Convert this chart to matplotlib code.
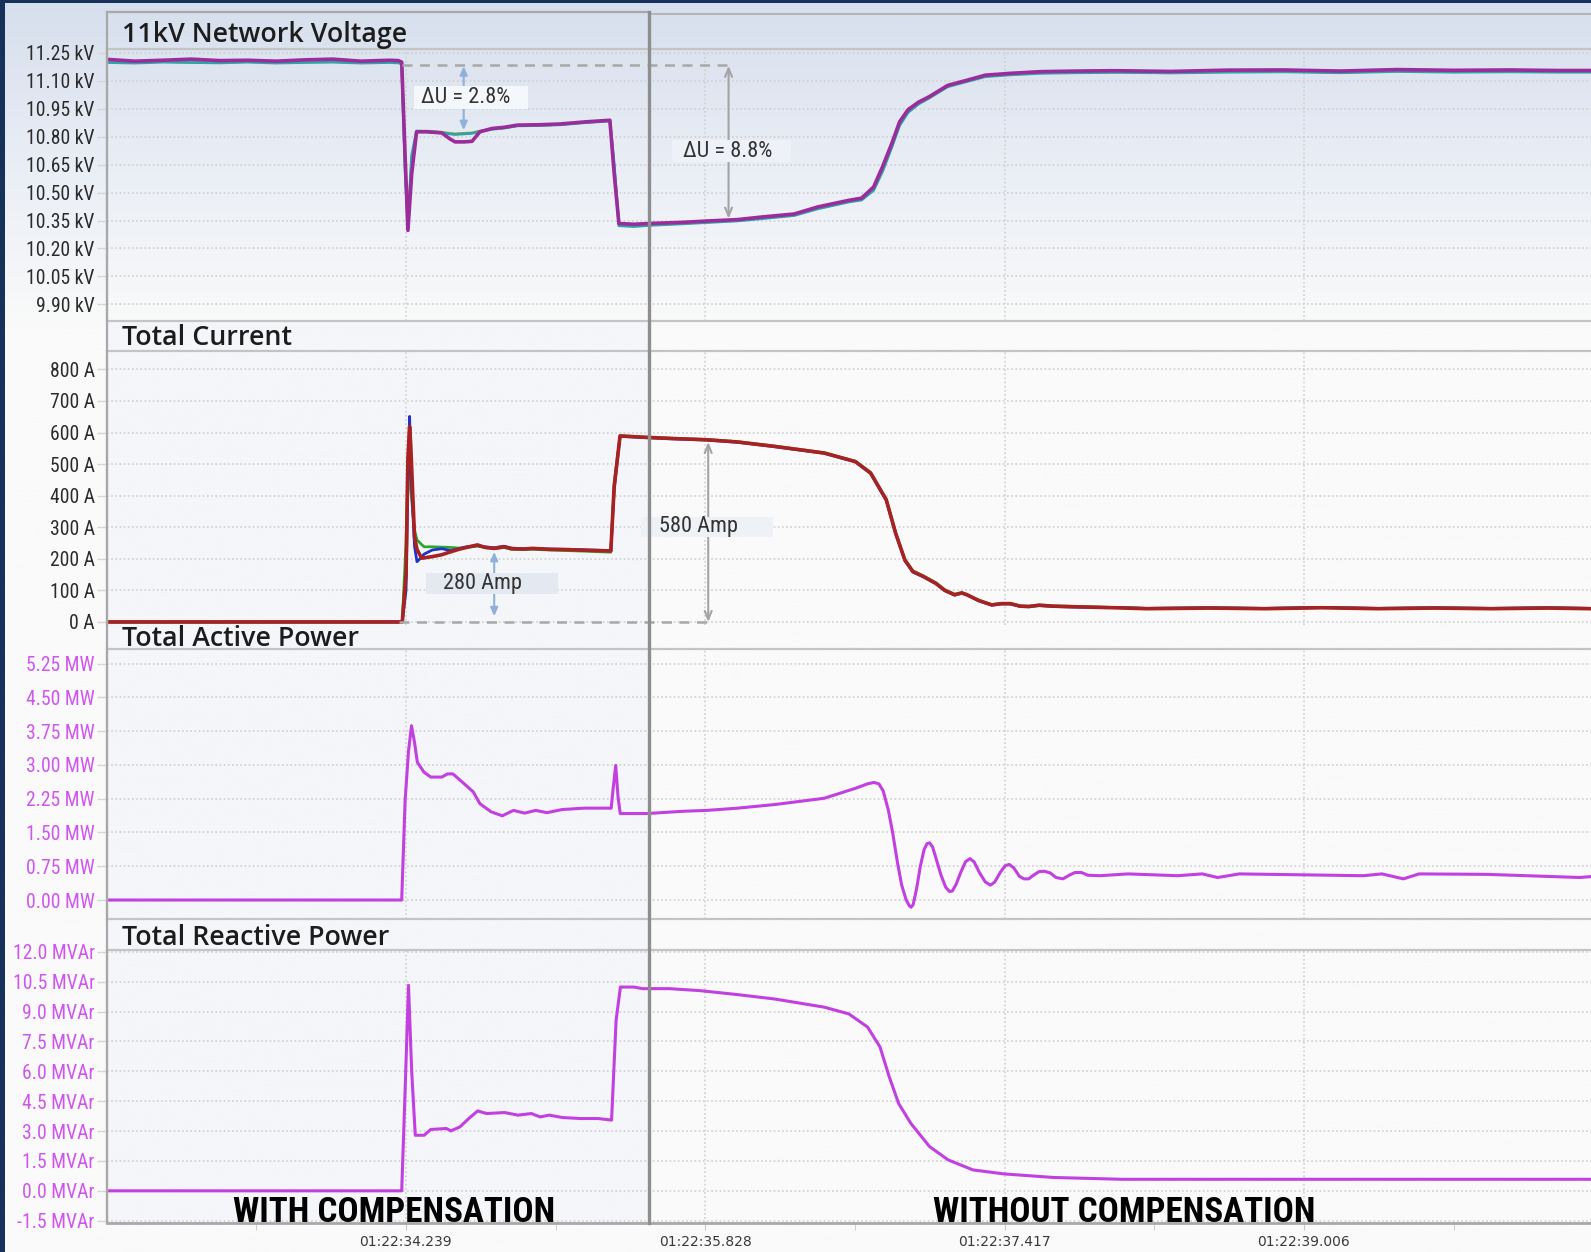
import numpy as np
import matplotlib
matplotlib.use("Agg")
import matplotlib.pyplot as plt
from matplotlib import font_manager as fm
from matplotlib.font_manager import FontProperties
from matplotlib.patches import Rectangle
from matplotlib.lines import Line2D
from matplotlib.colors import LinearSegmentedColormap

# time axis: seconds after 01:22:00
TICK_T = [34.239, 35.828, 37.417, 39.006]
TICK_LABELS = ["01:22:34.239", "01:22:35.828", "01:22:37.417", "01:22:39.006"]

# 11kV network voltage, three phases (kV)
VOLT_T = [32.65, 32.80, 32.95, 33.10, 33.25, 33.40, 33.55, 33.70, 33.85, 34.00, 34.15, 34.20,
          34.217, 34.235, 34.250, 34.270, 34.296, 34.35, 34.43, 34.47, 34.50, 34.55, 34.59,
          34.632, 34.697, 34.76, 34.831, 34.95, 35.058, 35.187, 35.322, 35.345, 35.370, 35.45,
          35.55, 35.70, 35.85, 36.00, 36.13, 36.30, 36.426, 36.593, 36.658, 36.722, 36.77,
          36.819, 36.86, 36.905, 36.96, 37.018, 37.115, 37.218, 37.315, 37.45, 37.611, 37.80,
          38.004, 38.30, 38.60, 38.90, 39.20, 39.50, 39.80, 40.10, 40.35, 40.53]
VOLT_A = [11.215, 11.205, 11.210, 11.216, 11.208, 11.210, 11.205, 11.212, 11.216, 11.205, 11.210, 11.208,
          11.200, 10.700, 10.297, 10.600, 10.826, 10.826, 10.820, 10.790, 10.772, 10.772, 10.775,
          10.826, 10.844, 10.850, 10.862, 10.864, 10.868, 10.879, 10.888, 10.600, 10.334, 10.330,
          10.335, 10.340, 10.348, 10.355, 10.369, 10.385, 10.423, 10.459, 10.470, 10.530, 10.640,
          10.765, 10.880, 10.945, 10.985, 11.015, 11.075, 11.103, 11.130, 11.140, 11.149, 11.152,
          11.154, 11.150, 11.157, 11.158, 11.152, 11.160, 11.156, 11.158, 11.155, 11.155]
VOLT_B = [11.198, 11.195, 11.200, 11.198, 11.196, 11.200, 11.195, 11.198, 11.200, 11.195, 11.198, 11.196,
          11.190, 10.620, 10.330, 10.700, 10.830, 10.828, 10.822, 10.815, 10.812, 10.815, 10.818,
          10.828, 10.840, 10.846, 10.858, 10.860, 10.864, 10.875, 10.884, 10.650, 10.322, 10.318,
          10.325, 10.332, 10.340, 10.348, 10.360, 10.377, 10.413, 10.450, 10.460, 10.512, 10.615,
          10.745, 10.860, 10.930, 10.975, 11.008, 11.068, 11.096, 11.122, 11.132, 11.140, 11.143,
          11.145, 11.142, 11.146, 11.148, 11.143, 11.150, 11.146, 11.148, 11.146, 11.146]
VOLT_C = [11.202, 11.198, 11.203, 11.200, 11.199, 11.203, 11.198, 11.201, 11.203, 11.198, 11.201, 11.199,
          11.193, 10.650, 10.320, 10.680, 10.828, 10.830, 10.824, 10.818, 10.815, 10.818, 10.820,
          10.830, 10.842, 10.848, 10.860, 10.862, 10.866, 10.877, 10.886, 10.630, 10.326, 10.322,
          10.328, 10.335, 10.343, 10.351, 10.364, 10.380, 10.417, 10.454, 10.464, 10.520, 10.625,
          10.752, 10.868, 10.936, 10.979, 11.011, 11.071, 11.099, 11.125, 11.135, 11.143, 11.146,
          11.148, 11.145, 11.150, 11.151, 11.146, 11.153, 11.149, 11.151, 11.149, 11.149]
VOLT_TICKS = [11.25, 11.10, 10.95, 10.80, 10.65, 10.50, 10.35, 10.20, 10.05, 9.90]

# total current, three phases (A)
CUR_T = [32.65, 34.220, 34.240, 34.250, 34.259, 34.265, 34.285, 34.298, 34.323, 34.336, 34.38, 34.43,
         34.476, 34.52, 34.56, 34.619, 34.66, 34.708, 34.76, 34.80, 34.86, 34.912, 35.00, 35.101,
         35.20, 35.327, 35.345, 35.376, 35.50, 35.65, 35.836, 36.00, 36.197, 36.460, 36.625, 36.706,
         36.789, 36.839, 36.888, 36.93, 36.986, 37.053, 37.10, 37.152, 37.19, 37.218, 37.28, 37.349,
         37.40, 37.448, 37.50, 37.546, 37.60, 37.676, 37.80, 38.00, 38.171, 38.50, 38.80, 39.10,
         39.40, 39.70, 40.00, 40.30, 40.53]
CUR_RED = [0, 0, 150, 520, 619, 560, 270, 230, 202, 203, 207, 213,
           222, 230, 236, 244, 236, 233, 238, 232, 231, 233, 230, 229,
           227, 225, 430, 589, 585, 581, 577, 570, 556, 535, 508, 472,
           387, 281, 196, 160, 144, 122, 100, 86, 92, 86, 68, 54,
           58, 58, 50, 49, 53, 50, 48, 45, 42, 44, 42, 45,
           42, 44, 42, 44, 42]
CUR_BLUE = [0, 0, 100, 450, 651, 480, 240, 191, 205, 215, 228, 232,
            226, 232, 238, 242, 238, 235, 240, 234, 232, 233, 231, 230,
            228, 226, 420, 588, 584, 580, 576, 569, 555, 534, 507, 470,
            385, 279, 194, 158, 143, 121, 99, 85, 91, 85, 67, 53,
            57, 57, 49, 48, 52, 49, 47, 46, 43, 45, 43, 46,
            43, 45, 43, 45, 43]
CUR_GREEN = [0, 0, 250, 500, 580, 420, 290, 260, 245, 238, 238, 237,
             236, 234, 236, 240, 236, 232, 236, 230, 229, 230, 228, 226,
             224, 221, 440, 590, 586, 582, 578, 571, 557, 536, 509, 473,
             389, 283, 198, 162, 146, 124, 102, 88, 93, 87, 69, 55,
             59, 59, 51, 50, 54, 51, 49, 46, 43, 45, 43, 46,
             43, 45, 43, 45, 43]
CUR_TICKS = [800, 700, 600, 500, 400, 300, 200, 100, 0]

# total active power (MW)
P_T = [32.65, 34.217, 34.235, 34.253, 34.269, 34.285, 34.300, 34.335, 34.371, 34.430, 34.460, 34.489,
       34.549, 34.597, 34.632, 34.691, 34.751, 34.810, 34.869, 34.928, 34.988, 35.070, 35.187, 35.329,
       35.340, 35.353, 35.365, 35.377, 35.518, 35.708, 35.836, 36.00, 36.197, 36.460, 36.625, 36.690,
       36.724, 36.750, 36.773, 36.800, 36.822, 36.850, 36.871, 36.895, 36.912, 36.921, 36.932, 36.950,
       36.970, 36.990, 37.005, 37.019, 37.035, 37.055, 37.080, 37.105, 37.125, 37.140, 37.160, 37.185,
       37.210, 37.233, 37.255, 37.285, 37.315, 37.342, 37.365, 37.395, 37.420, 37.441, 37.465, 37.495,
       37.520, 37.545, 37.570, 37.600, 37.628, 37.660, 37.690, 37.727, 37.760, 37.790, 37.826, 37.860,
       37.924, 38.072, 38.335, 38.466, 38.548, 38.663, 39.321, 39.420, 39.534, 39.617, 39.978, 40.471,
       40.530]
P_MW = [0.0, 0.0, 2.2, 3.3, 3.87, 3.5, 3.06, 2.84, 2.73, 2.73, 2.80, 2.80,
        2.58, 2.40, 2.14, 1.96, 1.87, 1.99, 1.93, 1.99, 1.94, 2.01, 2.04, 2.04,
        2.5, 2.99, 2.3, 1.92, 1.92, 1.97, 1.99, 2.04, 2.12, 2.26, 2.48, 2.58,
        2.61, 2.58, 2.42, 2.00, 1.52, 0.80, 0.33, 0.00, -0.13, -0.16, -0.10, 0.25,
        0.75, 1.12, 1.25, 1.27, 1.18, 0.90, 0.55, 0.28, 0.19, 0.20, 0.35, 0.62,
        0.85, 0.92, 0.85, 0.60, 0.40, 0.33, 0.40, 0.62, 0.76, 0.79, 0.72, 0.53,
        0.47, 0.47, 0.55, 0.63, 0.64, 0.60, 0.50, 0.47, 0.55, 0.61, 0.61, 0.55,
        0.54, 0.58, 0.54, 0.58, 0.50, 0.58, 0.54, 0.58, 0.47, 0.58, 0.57, 0.50,
        0.52]
P_TICKS = [5.25, 4.50, 3.75, 3.00, 2.25, 1.50, 0.75, 0.00]

# total reactive power (MVAr)
Q_T = [32.65, 34.217, 34.235, 34.253, 34.270, 34.289, 34.336, 34.371, 34.454, 34.478,
       34.526, 34.573, 34.620, 34.668, 34.763, 34.834, 34.905, 34.952, 35.000, 35.070,
       35.165, 35.260, 35.331, 35.355, 35.378, 35.449, 35.496, 35.638, 35.800, 36.00,
       36.197, 36.460, 36.591, 36.690, 36.756, 36.805, 36.855, 36.920, 37.019, 37.118,
       37.249, 37.413, 37.677, 38.039, 38.60, 39.20, 39.80, 40.53]
Q_MVAR = [0.0, 0.0, 5.0, 10.32, 6.0, 2.79, 2.79, 3.08, 3.13, 3.01,
          3.21, 3.63, 4.01, 3.88, 3.93, 3.80, 3.88, 3.71, 3.80, 3.68,
          3.63, 3.63, 3.55, 8.56, 10.23, 10.23, 10.15, 10.15, 10.05, 9.85,
          9.63, 9.22, 8.88, 8.22, 7.22, 5.72, 4.38, 3.38, 2.22, 1.55,
          1.05, 0.85, 0.67, 0.58, 0.58, 0.58, 0.58, 0.58]
Q_TICKS = [12.0, 10.5, 9.0, 7.5, 6.0, 4.5, 3.0, 1.5, 0.0, -1.5]

W, H = 1591, 1252
X0, X1 = 32.65, 40.53
LEFT = 106.5
SEP_X = 649.4
GRID = "#d0d0d0"
FRAME = "#c4c4c4"
POWER = "#c23fe0"
POWER_TXT = "#d055ee"


# pick a narrow face if the system has one, else Liberation Sans (Arial metrics)
def narrow_font():
    entries = fm.fontManager.ttflist
    names = {e.name for e in entries}
    for name in ["Liberation Sans Narrow", "Arial Narrow", "Roboto Condensed",
                 "Open Sans Condensed", "DejaVu Sans Condensed", "Noto Sans Condensed"]:
        if name in names:
            return dict(family=name), 1.15
    for name in ["Roboto", "Noto Sans", "Open Sans", "DejaVu Sans"]:
        if any(e.name == name and e.stretch == "condensed" for e in entries):
            return dict(family=name, stretch="condensed"), 1.08
    return dict(family="Liberation Sans"), 1.0


NARROW, SCALE = narrow_font()


def nfont(size, weight="normal"):
    return FontProperties(size=size * SCALE, weight=weight, **NARROW)


fig = plt.figure(figsize=(W / 100, H / 100), dpi=100)


def fx(px):
    return px / W


def fy(py):
    return 1 - py / H


# background gradient
bg = fig.add_axes([0, 0, 1, 1], zorder=-10)
bg.axis("off")
cmap = LinearSegmentedColormap.from_list(
    "bg", [(0, "#d6dfed"), (0.12, "#e8edf5"), (0.26, "#fafafa"), (1, "#fafafa")])
bg.imshow(np.linspace(0, 1, 500).reshape(-1, 1), aspect="auto", cmap=cmap,
          extent=[0, 1, 0, 1], origin="upper")
bg.set_xlim(0, 1)
bg.set_ylim(0, 1)
bg.add_patch(Rectangle((fx(LEFT), fy(1222.7)), fx(SEP_X - LEFT), (1222.7 - 320) / H,
                       fc="#eef2f8", ec="none", alpha=0.45))
bg.add_patch(Rectangle((0, 0), 5 / W, 1, fc="#17325a", ec="none"))
bg.add_patch(Rectangle((0, 1 - 3 / H), 1, 3 / H, fc="#17325a", ec="none"))


def panel(top, bottom, ylim, ticks, labels, tick_color):
    ax = fig.add_axes([fx(LEFT), fy(bottom), 1 - fx(LEFT), (bottom - top) / H])
    ax.patch.set_visible(False)
    ax.set_xlim(X0, X1)
    ax.set_ylim(*ylim)
    ax.set_yticks(ticks)
    ax.set_yticklabels(labels)
    for lbl in ax.get_yticklabels():
        lbl.set_fontproperties(nfont(12.3))
    ax.tick_params(axis="y", length=7, width=1, color="#d6d6d6", pad=1.5, labelcolor=tick_color)
    ax.set_xticks(TICK_T)
    ax.tick_params(axis="x", length=0, labelbottom=False)
    ax.grid(True, color=GRID, linestyle=(0, (1, 1.5)), linewidth=1.2)
    ax.set_axisbelow(True)
    ax.spines["right"].set_visible(False)
    for s in ["top", "bottom", "left"]:
        ax.spines[s].set_color(FRAME)
        ax.spines[s].set_linewidth(1.6)
    return ax


def note(ax, x, y, box, text, fc):
    ax.add_patch(Rectangle(box[:2], box[2], box[3], fc=fc, ec="none", zorder=4))
    ax.text(x, y, text, ha="center", va="center", fontproperties=nfont(14),
            color="#333333", zorder=5)


BLUE_ARROW = dict(arrowstyle="<|-|>,head_length=0.5,head_width=0.22",
                  color="#8fb0d9", lw=1.5, shrinkA=0, shrinkB=0)
GREY_ARROW = dict(arrowstyle="<->,head_length=0.6,head_width=0.25",
                  color="#a4a4a4", lw=1.5, shrinkA=0, shrinkB=0)

# voltage panel
ax1 = panel(48.7, 320.6, (9.813, 11.272), VOLT_TICKS,
            [f"{v:.2f} kV" for v in VOLT_TICKS], "#2b2b2b")
ax1.plot(VOLT_T, VOLT_C, color="#a8a83a", lw=2.0)
ax1.plot(VOLT_T, VOLT_B, color="#2fa3a6", lw=2.0)
ax1.plot(VOLT_T, VOLT_A, color="#9a2c9c", lw=2.6)
ax1.plot([34.22, 35.975], [11.185, 11.185], color="#a8a8a8", lw=1.8, ls=(0, (4, 3)))
ax1.annotate("", xy=(34.546, 11.178), xytext=(34.546, 10.835), arrowprops=BLUE_ARROW, zorder=3)
note(ax1, 34.554, 11.010, (34.282, 10.951, 0.603, 0.119), "ΔU = 2.8%", "#f4f7fb")
ax1.annotate("", xy=(35.952, 11.180), xytext=(35.952, 10.360), arrowprops=GREY_ARROW, zorder=3)
note(ax1, 35.947, 10.722, (35.650, 10.662, 0.636, 0.120), "ΔU = 8.8%", "#eef2f8")

# current panel
ax2 = panel(351.1, 625.0, (-9.6, 857.8), CUR_TICKS,
            [f"{v} A" for v in CUR_TICKS], "#2b2b2b")
ax2.spines["bottom"].set_visible(False)
ax2.plot(CUR_T, CUR_GREEN, color="#2ea52e", lw=2.0)
ax2.plot(CUR_T, CUR_BLUE, color="#2232c8", lw=2.0)
ax2.plot(CUR_T, CUR_RED, color="#a82222", lw=2.6)
ax2.plot([34.20, 35.86], [0, 0], color="#a8a8a8", lw=1.8, ls=(0, (4, 3)))
ax2.annotate("", xy=(34.708, 222), xytext=(34.708, 18), arrowprops=BLUE_ARROW, zorder=3)
note(ax2, 34.648, 122, (34.347, 90, 0.700, 64), "280 Amp", "#e4e9f1")
ax2.annotate("", xy=(35.844, 570), xytext=(35.844, 0), arrowprops=GREY_ARROW, zorder=3)
note(ax2, 35.790, 302, (35.489, 270, 0.700, 64), "580 Amp", "#eef1f5")

# active power panel
ax3 = panel(649.4, 919.3, (-0.428, 5.565), P_TICKS,
            [f"{v:.2f} MW" for v in P_TICKS], POWER_TXT)
ax3.plot(P_T, P_MW, color=POWER, lw=2.2)

# reactive power panel
ax4 = panel(949.8, 1222.7, (-1.60, 12.10), Q_TICKS,
            [f"{v:.1f} MVAr" for v in Q_TICKS], POWER_TXT)
ax4.plot(Q_T, Q_MVAR, color=POWER, lw=2.2)
ax4.spines["bottom"].set_color("#a8a8a8")
ax4.spines["bottom"].set_linewidth(2)
ax4.set_xticklabels(TICK_LABELS)
for lbl in ax4.get_xticklabels():
    lbl.set_fontproperties(nfont(12))
ax4.tick_params(axis="x", labelbottom=True, length=5, color="#c8c8c8",
                labelcolor="#3a3a3a", pad=3.5)
ax4.set_xticks([t - 0.7945 for t in TICK_T] + [TICK_T[-1] + 0.7945], minor=True)
ax4.tick_params(axis="x", which="minor", length=5, color="#c8c8c8")

# panel titles
for y, name in [(35, "11kV Network Voltage"), (338.5, "Total Current"),
                (638.8, "Total Active Power"), (938.2, "Total Reactive Power")]:
    fig.text(fx(121.5), fy(y), name, ha="left", va="center", fontsize=19.3,
             fontfamily=["Open Sans", "DejaVu Sans"], fontweight="semibold", color="#1c1c1c")

# frame and separator
fig.add_artist(Line2D([fx(LEFT), fx(LEFT)], [fy(12.2), fy(1222.7)], color="#a8a8a8", lw=1.6))
fig.add_artist(Line2D([fx(LEFT), fx(SEP_X)], [fy(12.2), fy(12.2)], color="#a8a8a8", lw=1.6))
fig.add_artist(Line2D([fx(SEP_X), 1], [fy(14), fy(14)], color="#b4b4b4", lw=1.4))
fig.add_artist(Line2D([fx(SEP_X), fx(SEP_X)], [fy(12.2), fy(1222.7)], color="#8e8e8e", lw=2.4))

fig.text(fx(393.7), fy(1212), "WITH COMPENSATION", ha="center", va="center",
         fontproperties=nfont(22, "bold"), color="black")
fig.text(fx(1124.3), fy(1212), "WITHOUT COMPENSATION", ha="center", va="center",
         fontproperties=nfont(22, "bold"), color="black")

fig.savefig("out.png", dpi=100)
